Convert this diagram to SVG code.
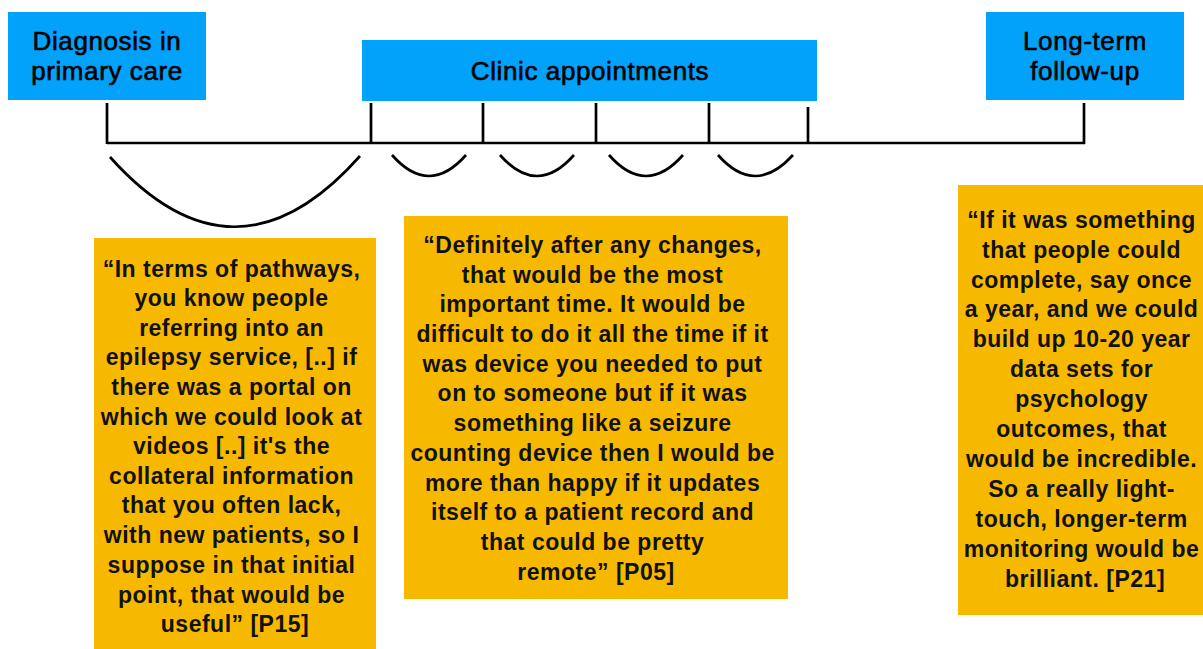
<svg xmlns="http://www.w3.org/2000/svg" width="1203" height="649" viewBox="0 0 1203 649">
<style>
.stage{fill:#02A1FA}
.quote{fill:#F7B900}
.title{font-family:"Liberation Sans",Arial,sans-serif;font-size:26px;letter-spacing:0.6px;fill:#000;stroke:#000;stroke-width:0.6;text-anchor:middle}
.qt{font-family:"Liberation Sans",Arial,sans-serif;font-size:23px;font-weight:bold;letter-spacing:0.5px;fill:#111;text-anchor:middle}
.ln{stroke:#000;stroke-width:2.7;fill:none;stroke-linecap:butt}
</style>
<rect width="1203" height="649" fill="#fff"/>
<g id="diagnosis">
<rect class="stage" x="8" y="12" width="198" height="88"/>
<text class="title" x="107" y="50">Diagnosis in</text>
<text class="title" x="107" y="80">primary care</text>
</g>
<g id="clinic">
<rect class="stage" x="362" y="40" width="455" height="61"/>
<text class="title" x="590" y="80">Clinic appointments</text>
</g>
<g id="longterm">
<rect class="stage" x="986" y="12" width="198" height="88"/>
<text class="title" x="1085" y="50">Long-term</text>
<text class="title" x="1085" y="80">follow-up</text>
</g>
<g id="connectors">
<path class="ln" d="M107 143 H1085"/>
<path class="ln" d="M107 103 V144 M371 103 V144 M483 103 V144 M596 103 V144 M709 103 V144 M808 107 V144 M1084 103 V144"/>
<path class="ln" d="M110 157 Q235 297 360 156"/>
<path class="ln" d="M392 155 Q429 197 466 155"/>
<path class="ln" d="M500 155 Q537 197 574 155"/>
<path class="ln" d="M609 155 Q646 197 683 155"/>
<path class="ln" d="M718 155 Q755 197 793 155"/>
</g>
<g id="quote-p15">
<rect class="quote" x="94" y="238" width="282" height="420"/>
<text class="qt">
<tspan x="235" y="277">“In terms of pathways,</tspan>
<tspan x="235" y="306">you know people</tspan>
<tspan x="235" y="336">referring into an</tspan>
<tspan x="235" y="365">epilepsy service, [..] if</tspan>
<tspan x="235" y="395">there was a portal on</tspan>
<tspan x="235" y="425">which we could look at</tspan>
<tspan x="235" y="454">videos [..] it's the</tspan>
<tspan x="235" y="484">collateral information</tspan>
<tspan x="235" y="513">that you often lack,</tspan>
<tspan x="235" y="543">with new patients, so I</tspan>
<tspan x="235" y="573">suppose in that initial</tspan>
<tspan x="235" y="603">point, that would be</tspan>
<tspan x="235" y="632">useful” [P15]</tspan>
</text>
</g>
<g id="quote-p05">
<rect class="quote" x="404" y="216" width="384" height="383"/>
<text class="qt">
<tspan x="596" y="253">“Definitely after any changes,</tspan>
<tspan x="596" y="283">that would be the most</tspan>
<tspan x="596" y="312">important time. It would be</tspan>
<tspan x="596" y="342">difficult to do it all the time if it</tspan>
<tspan x="596" y="372">was device you needed to put</tspan>
<tspan x="596" y="401">on to someone but if it was</tspan>
<tspan x="596" y="431">something like a seizure</tspan>
<tspan x="596" y="461">counting device then I would be</tspan>
<tspan x="596" y="491">more than happy if it updates</tspan>
<tspan x="596" y="520">itself to a patient record and</tspan>
<tspan x="596" y="550">that could be pretty</tspan>
<tspan x="596" y="580">remote” [P05]</tspan>
</text>
</g>
<g id="quote-p21">
<rect class="quote" x="958" y="185" width="250" height="430"/>
<text class="qt">
<tspan x="1085" y="228">“If it was something</tspan>
<tspan x="1085" y="258">that people could</tspan>
<tspan x="1085" y="288">complete, say once</tspan>
<tspan x="1085" y="317">a year, and we could</tspan>
<tspan x="1085" y="347">build up 10-20 year</tspan>
<tspan x="1085" y="377">data sets for</tspan>
<tspan x="1085" y="407">psychology</tspan>
<tspan x="1085" y="437">outcomes, that</tspan>
<tspan x="1085" y="467">would be incredible.</tspan>
<tspan x="1085" y="497">So a really light-</tspan>
<tspan x="1085" y="527">touch, longer-term</tspan>
<tspan x="1085" y="557">monitoring would be</tspan>
<tspan x="1085" y="587">brilliant. [P21]</tspan>
</text>
</g>
</svg>
